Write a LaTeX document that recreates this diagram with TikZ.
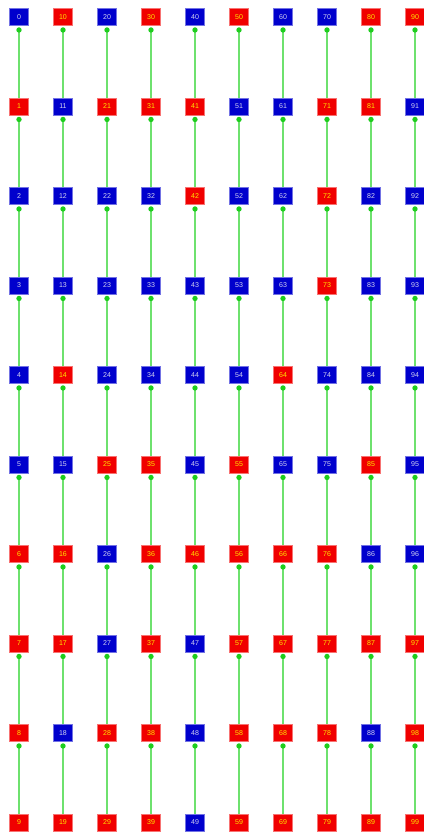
\documentclass[tikz,border=0pt]{standalone}
\usepackage{fontspec}
\newfontfamily\cellfont{Liberation Sans}
\usetikzlibrary{arrows.meta}
\definecolor{cr}{RGB}{240,0,0}
\definecolor{cb}{RGB}{0,0,205}
\definecolor{tr}{RGB}{255,230,0}
\definecolor{tb}{RGB}{210,210,240}
\definecolor{linkgreen}{RGB}{110,225,110}
\definecolor{dotgreen}{RGB}{30,205,30}
\tikzset{
    cell/.style={rectangle, minimum width=0.57cm, minimum height=0.5cm, inner sep=0pt, line width=0.4pt, font=\cellfont\fontsize{6}{7}\selectfont},
    link/.style={draw=linkgreen, line width=1pt, -{Circle[length=4.5pt, color=dotgreen]}, shorten >=1.5pt}
}
\begin{document}
\begin{tikzpicture}[x=0.03cm, y=-0.03cm]
    \useasboundingbox (0,0) rectangle (424,833);
    % Nodes (one column per entry, top row first; r = red, b = blue)
    \foreach \c/\kinds in {0/{b,r,b,b,b,b,r,r,r,r}, 1/{r,b,b,b,r,b,r,r,b,r},
                           2/{b,r,b,b,b,r,b,b,r,r}, 3/{r,r,b,b,b,r,r,r,r,r},
                           4/{b,r,r,b,b,b,r,b,b,b}, 5/{r,b,b,b,b,r,r,r,r,r},
                           6/{b,b,b,b,r,b,r,r,r,r}, 7/{b,r,r,r,b,b,r,r,r,r},
                           8/{r,r,b,b,b,r,b,r,b,r}, 9/{r,b,b,b,b,b,b,r,r,r}}
        \foreach \k [count=\r from 0] in \kinds {
            \pgfmathtruncatemacro{\n}{10*\c+\r}
            \node[cell, fill=c\k, draw=c\k!55!white, text=t\k] (v\c-\r) at ({19+44*\c},{17+89.5*\r}) {\n};
        }

    % edges
    \foreach \c in {0,...,9}
        \foreach \r/\u in {1/0,2/1,3/2,4/3,5/4,6/5,7/6,8/7,9/8}
            \draw[link] (v\c-\r) -- (v\c-\u);
\end{tikzpicture}
\end{document}
